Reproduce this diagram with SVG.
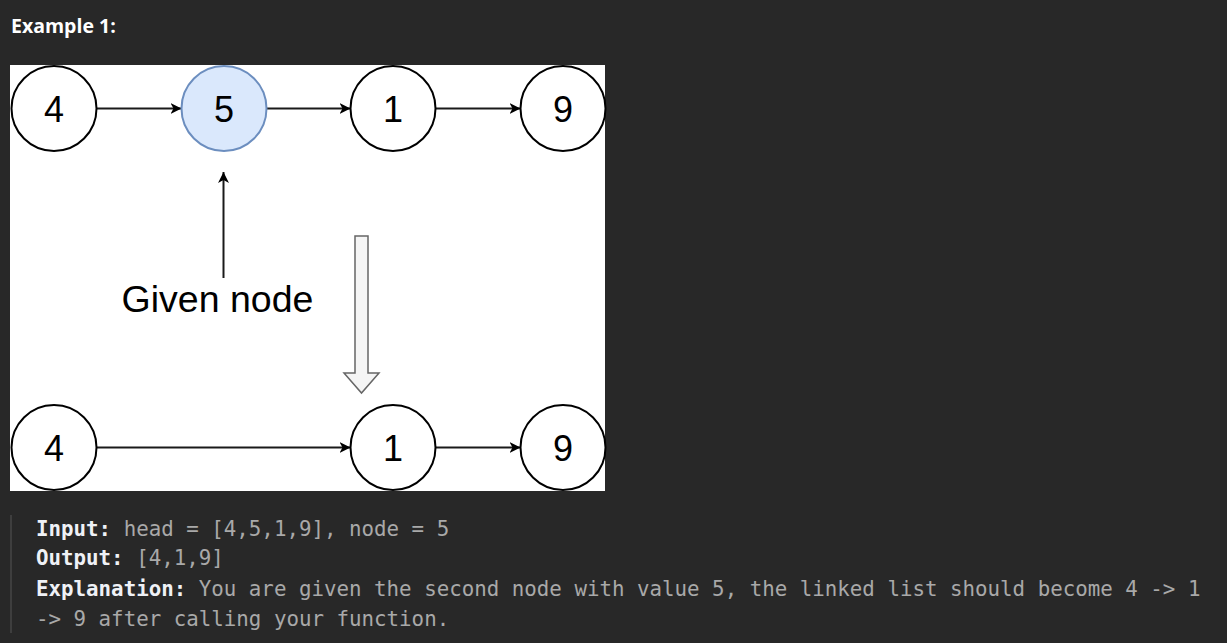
<svg xmlns="http://www.w3.org/2000/svg" width="1227" height="643" viewBox="0 0 1227 643">
<style>
.node circle{fill:#ffffff;stroke:#000000;stroke-width:2}
.node text{font-family:"Liberation Sans",Arial,sans-serif;font-size:36px;fill:#000000;text-anchor:middle}
.conn line{stroke:#1a1a1a;stroke-width:2}
.code{font-family:"DejaVu Sans Mono","Liberation Mono",monospace;font-size:20.8px;fill:#a9a9a9}
.lbl{font-weight:bold;fill:#eff1f6}
</style>
<defs>
<marker id="arr" viewBox="0 0 11 11" refX="11" refY="5.5" markerWidth="11" markerHeight="11" markerUnits="userSpaceOnUse" orient="auto">
<path d="M0,0 L11,5.5 L0,11 L3,5.5 Z" fill="#000000"/>
</marker>
</defs>
<rect x="0" y="0" width="1227" height="643" fill="#282828"/>
<text x="11" y="33" font-family="'Open Sans','Liberation Sans',sans-serif" font-weight="bold" font-size="19.5px" fill="#ffffff">Example 1:</text>
<rect x="10" y="65" width="595" height="426" fill="#ffffff"/>
<g class="conn">
<line x1="96.5" y1="108.5" x2="181.5" y2="108.5" marker-end="url(#arr)"/>
<line x1="266.5" y1="108.5" x2="350.5" y2="108.5" marker-end="url(#arr)"/>
<line x1="435.5" y1="108.5" x2="520.5" y2="108.5" marker-end="url(#arr)"/>
<line x1="223.5" y1="278" x2="223.5" y2="172" marker-end="url(#arr)"/>
<line x1="96.5" y1="447.5" x2="350.5" y2="447.5" marker-end="url(#arr)"/>
<line x1="435.5" y1="447.5" x2="520.5" y2="447.5" marker-end="url(#arr)"/>
<path d="M355,236 H368 V373 H379 L361.5,393 L344,373 H355 Z" fill="#f5f5f5" stroke="#666666" stroke-width="1.5"/>
</g>
<g id="n4a" class="node"><circle cx="54" cy="108.5" r="42.5"/><text x="54" y="121.5">4</text></g>
<g id="n5" class="node"><circle cx="224" cy="108.5" r="42.5" style="fill:#dae8fc;stroke:#6c8ebf"/><text x="224" y="121.5">5</text></g>
<g id="n1a" class="node"><circle cx="393" cy="108.5" r="42.5"/><text x="393" y="121.5">1</text></g>
<g id="n9a" class="node"><circle cx="563" cy="108.5" r="42.5"/><text x="563" y="121.5">9</text></g>
<g id="n4b" class="node"><circle cx="54" cy="447.5" r="42.5"/><text x="54" y="460.5">4</text></g>
<g id="n1b" class="node"><circle cx="393" cy="447.5" r="42.5"/><text x="393" y="460.5">1</text></g>
<g id="n9b" class="node"><circle cx="563" cy="447.5" r="42.5"/><text x="563" y="460.5">9</text></g>
<text x="217.5" y="312" font-family="'Liberation Sans',Arial,sans-serif" font-size="37.5px" fill="#000000" text-anchor="middle">Given node</text>
<rect x="10" y="515" width="2" height="118" fill="#3e3e3e"/>
<text class="code" x="36" y="535.5"><tspan class="lbl">Input:</tspan> head = [4,5,1,9], node = 5</text>
<text class="code" x="36" y="565"><tspan class="lbl">Output:</tspan> [4,1,9]</text>
<text class="code" x="36" y="595.5"><tspan class="lbl">Explanation:</tspan> You are given the second node with value 5, the linked list should become 4 -&gt; 1</text>
<text class="code" x="36" y="625.5">-&gt; 9 after calling your function.</text>
</svg>
